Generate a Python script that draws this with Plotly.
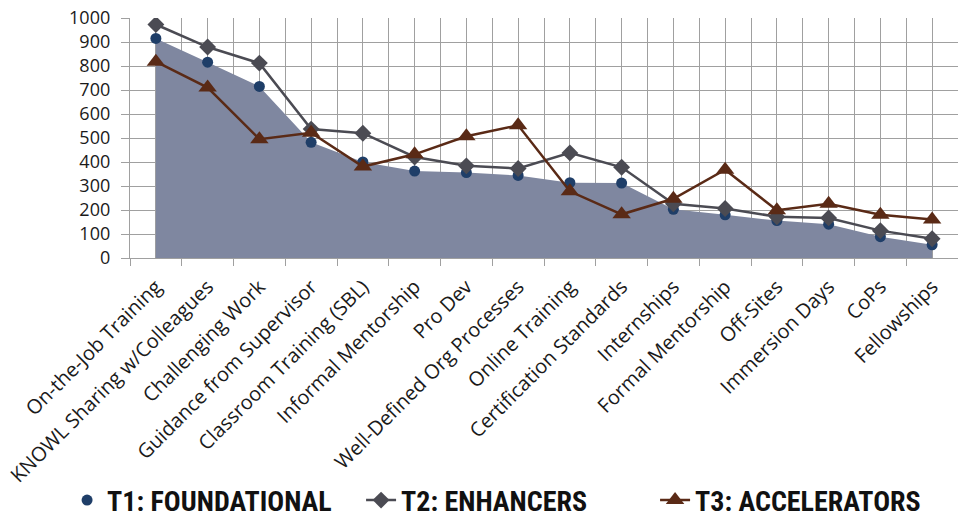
import plotly.graph_objects as go

categories = [
    "On-the-Job Training", "KNOWL Sharing w/Colleagues", "Challenging Work",
    "Guidance from Supervisor", "Classroom Training (SBL)", "Informal Mentorship",
    "Pro Dev", "Well-Defined Org Processes", "Online Training",
    "Certification Standards", "Internships", "Formal Mentorship",
    "Off-Sites", "Immersion Days", "CoPs", "Fellowships",
]
t1_foundational = [915, 816, 715, 482, 400, 362, 356, 344, 314, 312, 203, 180, 156, 141, 89, 55]
t2_enhancers = [973, 879, 812, 537, 520, 421, 384, 373, 438, 378, 226, 206, 172, 167, 114, 80]
t3_accelerators = [818, 710, 495, 522, 381, 432, 507, 553, 278, 182, 247, 368, 199, 226, 180, 160]
y_ticks = list(range(0, 1001, 100))

x = list(range(len(categories)))
grid_color = "#a0a0a0"
text_color = "#1a1a1a"

fig = go.Figure()

# shaded area under T1
fig.add_trace(go.Scatter(
    x=x, y=t1_foundational, mode="none", fill="tozeroy",
    fillcolor="#7f87a0", showlegend=False, hoverinfo="skip",
))
fig.add_trace(go.Scatter(
    x=x, y=t1_foundational, mode="markers", name="T1: FOUNDATIONAL",
    marker=dict(symbol="circle", size=11, color="#1f3e68"),
))
fig.add_trace(go.Scatter(
    x=x, y=t2_enhancers, mode="lines+markers", name="T2: ENHANCERS",
    line=dict(color="#4b4b53", width=2.5),
    marker=dict(symbol="diamond", size=13, color="#4b4b53"),
))
fig.add_trace(go.Scatter(
    x=x, y=t3_accelerators, mode="lines+markers", name="T3: ACCELERATORS",
    line=dict(color="#5a2a16", width=2.5),
    marker=dict(symbol="triangle-up", size=16, color="#5a2a16"),
))

fig.update_layout(
    width=958, height=519,
    margin=dict(l=130, r=0, t=17.5, b=261, autoexpand=False),
    paper_bgcolor="white", plot_bgcolor="white",
    font=dict(family="Open Sans", color=text_color),
    legend=dict(
        orientation="h",
        x=-0.076, xanchor="left",
        y=-1.01, yanchor="middle",
        bgcolor="rgba(0,0,0,0)",
        font=dict(family="Liberation Sans Narrow, Roboto Condensed, Roboto", size=28,
                  color="#111111", weight="bold"),
        entrywidth=249, entrywidthmode="pixels",
    ),
)
fig.update_xaxes(
    range=[-0.5, len(categories) - 0.5],
    tickmode="array", tickvals=x, ticktext=categories,
    tickangle=-45, tickfont=dict(size=20, color=text_color),
    ticklabelstandoff=8,
    ticks="", showgrid=True, gridcolor=grid_color, gridwidth=1.3,
    showline=True, linecolor=grid_color, linewidth=1.3,
    minor=dict(
        tickmode="array", tickvals=[i - 0.5 for i in range(len(categories) + 1)],
        ticks="outside", ticklen=7, tickcolor=grid_color, tickwidth=1.3,
        showgrid=True, gridcolor=grid_color, gridwidth=1.3,
    ),
    zeroline=False,
)
fig.update_yaxes(
    range=[0, 1000], tickmode="array", tickvals=y_ticks,
    tickfont=dict(size=18, color=text_color),
    ticklabelstandoff=7,
    ticks="outside", ticklen=8, tickcolor=grid_color, tickwidth=1.3,
    showgrid=True, gridcolor=grid_color, gridwidth=1.3,
    showline=True, linecolor=grid_color, linewidth=1.3,
    zeroline=False,
)

fig.write_html("out.html")
